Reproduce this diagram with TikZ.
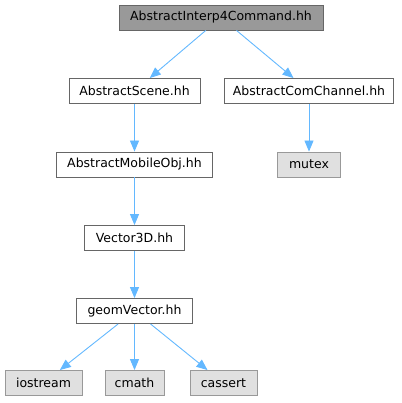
\documentclass[tikz,border=0pt]{standalone}
\usepackage{fontspec}
\setmainfont{DejaVu Sans}
\usetikzlibrary{arrows.meta}
\definecolor{edgeblue}{HTML}{63B8FF}
\definecolor{rootfill}{HTML}{999999}
\definecolor{sysfill}{HTML}{E0E0E0}
\definecolor{bordergray}{HTML}{666666}
\definecolor{sysborder}{HTML}{999999}
\begin{document}
\begin{tikzpicture}[x=1pt,y=-1pt,
  box/.style={draw=bordergray, fill=white, line width=0.9pt, minimum height=25pt, inner sep=0pt, font=\fontsize{12.5}{14}\selectfont, text=black},
  rootbox/.style={box, fill=rootfill},
  sysbox/.style={box, draw=sysborder, fill=sysfill},
  dep/.style={draw=edgeblue, line width=0.9pt, -{Triangle[length=11pt,width=9pt]}}]
\useasboundingbox (0,0) rectangle (401,403);
\node[rootbox, minimum width=204pt] (cmd) at (221,17.5) {AbstractInterp4Command.hh};
\node[box, minimum width=131pt] (scene) at (134.5,91) {AbstractScene.hh};
\node[box, minimum width=169pt] (com) at (309,91) {AbstractComChannel.hh};
\node[box, minimum width=156pt] (mobile) at (134.5,164.5) {AbstractMobileObj.hh};
\node[sysbox, minimum width=63pt] (mutex) at (309,164.5) {mutex};
\node[box, minimum width=100pt] (vec) at (134.5,238) {Vector3D.hh};
\node[box, minimum width=116pt] (geom) at (134.5,311) {geomVector.hh};
\node[sysbox, minimum width=77pt] (ios) at (43.5,383) {iostream};
\node[sysbox, minimum width=59pt] (cmath) at (134.5,383) {cmath};
\node[sysbox, minimum width=67pt] (cassert) at (223.5,383) {cassert};
\draw[dep] (cmd) -- (scene);
\draw[dep] (cmd) -- (com);
\draw[dep] (scene) -- (mobile);
\draw[dep] (com) -- (mutex);
\draw[dep] (mobile) -- (vec);
\draw[dep] (vec) -- (geom);
\draw[dep] (geom) -- (ios);
\draw[dep] (geom) -- (cmath);
\draw[dep] (geom) -- (cassert);
\end{tikzpicture}
\end{document}
